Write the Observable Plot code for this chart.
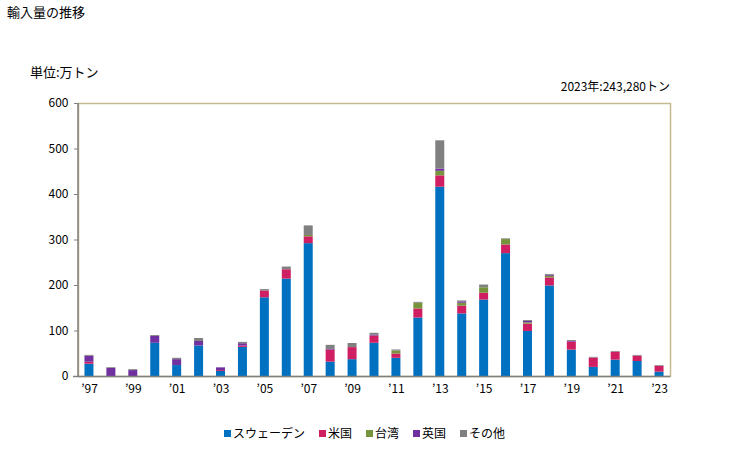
<!DOCTYPE html>
<html><head><meta charset="utf-8">
<script src="https://cdn.jsdelivr.net/npm/d3@7"></script>
<script src="https://cdn.jsdelivr.net/npm/@observablehq/plot@0.6"></script>
<style>
body{margin:0;background:#fff;font-family:"Noto Sans CJK JP","Noto Sans",sans-serif;}
#wrap{position:relative;width:729px;height:450px;}
.t{position:absolute;font-size:12px;color:#000;white-space:nowrap;line-height:1;}
#legend{position:absolute;left:0;width:729px;top:424px;text-align:center;font-size:12px;}
#legend span.item{display:inline-block;margin:0 7px;}
#legend i{display:inline-block;width:7px;height:7px;margin-right:2px;vertical-align:1px;}
svg text{font-family:"Noto Sans CJK JP","Noto Sans",sans-serif;}
</style></head>
<body><div id="wrap">
<div class="t" style="left:7px;top:5px;font-size:13px;">輸入量の推移</div>
<div class="t" style="left:30px;top:65px;font-size:13px;">単位:万トン</div>
<div class="t" style="right:59px;top:80px;">2023年:243,280トン</div>
<div id="legend"></div>
</div>
<script>
const years = d3.range(1997, 2024);
const seriesNames = ["スウェーデン", "米国", "台湾", "英国", "その他"];
const colors = ["#0070C0", "#D01E62", "#77933C", "#7030A0", "#808080"];
const sweden = [27,0,0,73,24,67,11,64,173,214,292,31.5,37,73,40,128.5,416,137.5,168,270,99,199,58,20,36,33,9.5];
const us     = [4.4,0,0,0,0,0,2,3,15,20.6,15,26.5,26.5,16,9.5,20,25,17,15,19,16,17.6,17.6,20.6,17.6,11.8,13];
const taiwan = [0,0,0,0,0,0,0,0,0,0,3,0,0,0,6.6,12.5,10,6.6,12,12,3,3.7,0,0,0,0,0];
const uk     = [13,18,13,15,13,10,6,5,0,0,0,1.5,0,1.5,0,0,5,3,0,0,3,2,1.5,0,0,0,0];
const other  = [2,1.5,2,2,3,6.5,0,3,3,6,21,9,9,4.5,2.2,2,62,2,6,1.5,2,2,2,1.5,1.5,1.5,1.5];
const yTicks = [0,100,200,300,400,500,600];
const xTicks = years.filter((y,i) => i % 2 === 0);

const seriesValues = [sweden, us, taiwan, uk, other];
const rows = [];
years.forEach((yr, i) => seriesNames.forEach((s, j) => rows.push({year: yr, series: s, value: seriesValues[j][i]})));

const chart = Plot.plot({
  width: 729, height: 450,
  marginTop: 103, marginBottom: 74, marginLeft: 78, marginRight: 59,
  style: {fontSize: "12px", color: "#000", background: "transparent"},
  x: {type: "band", domain: years, paddingInner: 0.59, paddingOuter: 0.295, round: false, label: null},
  y: {domain: [0, 600], label: null},
  color: {domain: seriesNames, range: colors},
  marks: [
    Plot.frame({stroke: "#C4B88C", strokeWidth: 1.5}),
    Plot.barY(rows, {x: "year", y: "value", fill: "series", order: seriesNames}),
    Plot.axisY({ticks: yTicks, tickSize: 4, tickPadding: 6, stroke: "#808080", fill: "#000", label: null}),
    Plot.axisX({ticks: xTicks, tickSize: 0, tickPadding: 8, tickFormat: d => "’" + String(d).slice(2), label: null, fill: "#000"}),
    Plot.ruleY([0], {stroke: "#808080", strokeWidth: 1.5, insetLeft: -5})
  ]
});
chart.style.position = "absolute";
chart.style.left = "0"; chart.style.top = "0";
document.getElementById("wrap").prepend(chart);

// left axis line in gray
const svg = d3.select(chart);
svg.append("line").attr("x1", 78).attr("x2", 78).attr("y1", 103).attr("y2", 376.5).attr("stroke", "#808080").attr("stroke-width", 1.5);

const lg = document.getElementById("legend");
seriesNames.forEach((s, j) => {
  const it = document.createElement("span");
  it.className = "item";
  it.innerHTML = `<i style="background:${colors[j]}"></i>${s}`;
  lg.appendChild(it);
});
</script></body></html>
